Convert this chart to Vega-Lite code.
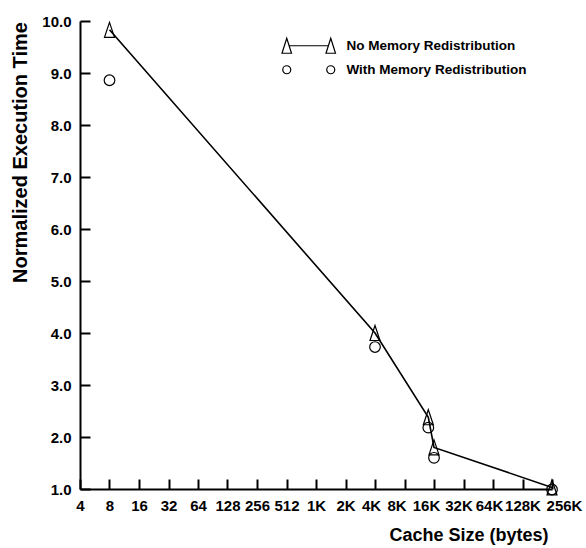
{
  "$schema": "https://vega.github.io/schema/vega-lite/v6.json",
  "width": 472,
  "height": 468,
  "autosize": {"type": "none"},
  "padding": {"left": 80, "top": 21, "right": 34, "bottom": 59},
  "background": "white",
  "config": {
    "view": {"stroke": null},
    "font": "Liberation Sans",
    "axis": {
      "grid": false,
      "domainColor": "black",
      "domainWidth": 2,
      "tickColor": "black",
      "tickWidth": 2,
      "tickSize": -10,
      "labelFont": "Liberation Sans",
      "labelFontWeight": "bold",
      "labelFontSize": 15,
      "labelColor": "black",
      "titleFont": "Liberation Sans",
      "titleFontWeight": "bold",
      "titleColor": "black",
      "labelOverlap": false,
      "labelFlush": false,
      "labelBound": false
    }
  },
  "data": {
    "values": [
      {"size": 8, "time": 9.83, "series": "No Memory Redistribution"},
      {"size": 4096, "time": 4.0, "series": "No Memory Redistribution"},
      {"size": 14336, "time": 2.38, "series": "No Memory Redistribution"},
      {"size": 16384, "time": 1.8, "series": "No Memory Redistribution"},
      {"size": 262144, "time": 1.03, "series": "No Memory Redistribution"},
      {"size": 8, "time": 8.86, "series": "With Memory Redistribution"},
      {"size": 4096, "time": 3.73, "series": "With Memory Redistribution"},
      {"size": 14336, "time": 2.18, "series": "With Memory Redistribution"},
      {"size": 16384, "time": 1.6, "series": "With Memory Redistribution"},
      {"size": 262144, "time": 0.99, "series": "With Memory Redistribution"}
    ]
  },
  "encoding": {
    "x": {
      "field": "size",
      "type": "quantitative",
      "scale": {"type": "log", "base": 2, "domain": [4, 262144], "nice": false},
      "axis": {
        "values": [4, 8, 16, 32, 64, 128, 256, 512, 1024, 2048, 4096, 8192, 16384, 32768, 65536, 131072, 262144],
        "labelExpr": "datum.value >= 1024 ? (datum.value / 1024) + 'K' : '' + datum.value",
        "labelPadding": 19,
        "labelOffset": {
          "condition": [
            {"test": "datum.value === 262144", "value": 12},
            {"test": "datum.value === 8192 || datum.value === 16384", "value": -8},
            {"test": "datum.value === 4096 || datum.value === 65536", "value": -4},
            {"test": "datum.value === 32768", "value": -5}
          ],
          "value": 0
        },
        "title": "Cache Size (bytes)",
        "titleFontSize": 18,
        "titleAnchor": "end",
        "titleAlign": "right",
        "titleBaseline": "alphabetic",
        "titleX": 468,
        "titleY": 51
      }
    },
    "y": {
      "field": "time",
      "type": "quantitative",
      "scale": {"domain": [1, 10], "nice": false, "zero": false},
      "axis": {
        "values": [1, 2, 3, 4, 5, 6, 7, 8, 9, 10],
        "format": ".1f",
        "labelPadding": 19,
        "title": "Normalized Execution Time",
        "titleFontSize": 20,
        "titleAlign": "center",
        "titleBaseline": "alphabetic",
        "titleAngle": -90,
        "titleX": -54,
        "titleY": 131
      }
    }
  },
  "layer": [
    {
      "transform": [{"filter": "datum.series === 'No Memory Redistribution'"}],
      "mark": {"type": "line", "color": "black", "strokeWidth": 1.6, "clip": false},
      "encoding": {}
    },
    {
      "transform": [{"filter": "datum.series === 'No Memory Redistribution'"}],
      "mark": {"type": "point", "filled": false, "stroke": "black", "strokeWidth": 1.2, "opacity": 1, "size": 225, "shape": "M0,-1L0.667,1L-0.667,1Z", "clip": false},
      "encoding": {}
    },
    {
      "transform": [{"filter": "datum.series === 'With Memory Redistribution'"}],
      "mark": {"type": "point", "filled": false, "stroke": "black", "strokeWidth": 1.2, "opacity": 1, "size": 113, "shape": "circle", "clip": false},
      "encoding": {}
    },
    {
      "mark": {"type": "point", "filled": false, "stroke": "black", "strokeWidth": 1.2, "opacity": 0, "clip": false},
      "encoding": {
        "shape": {
          "field": "series",
          "type": "nominal",
          "scale": {
            "domain": ["No Memory Redistribution", "With Memory Redistribution"],
            "range": [
              "M-4.4,-1.5L-3.45,1.5L-5.35,1.5ZM4.4,-1.5L5.35,1.5L3.45,1.5ZM-3.9,0L3.9,0",
              "M-5.2,0A0.8,0.8 0 1,0 -3.6,0A0.8,0.8 0 1,0 -5.2,0ZM3.6,0A0.8,0.8 0 1,0 5.2,0A0.8,0.8 0 1,0 3.6,0Z"
            ]
          },
          "legend": {
            "orient": "none",
            "legendX": 222,
            "legendY": 18,
            "title": null,
            "padding": 0,
            "symbolSize": 100,
            "symbolOpacity": 1,
            "symbolStrokeColor": "black",
            "symbolFillColor": "transparent",
            "symbolStrokeWidth": 1.2,
            "rowPadding": 6,
            "labelOffset": 31,
            "labelFont": "Liberation Sans",
            "labelFontWeight": "bold",
            "labelFontSize": 13.5,
            "labelColor": "black",
            "labelLimit": 300
          }
        }
      }
    }
  ]
}
